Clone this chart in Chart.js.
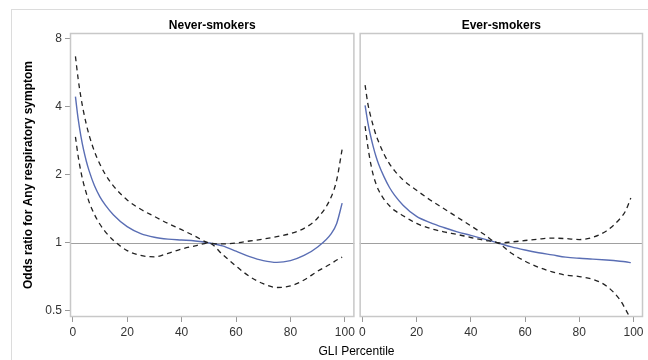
<!DOCTYPE html>
<html><head><meta charset="utf-8">
<script src="https://cdn.jsdelivr.net/npm/chart.js@4/dist/chart.umd.min.js"></script>
<style>
html,body{margin:0;padding:0;background:#fff;}
#wrap{position:relative;width:648px;height:360px;overflow:hidden;font-family:"Liberation Sans",Arial,sans-serif;}
#frame{position:absolute;left:11px;top:9px;width:700px;height:400px;border:1px solid #dcdcdc;}
#c1{position:absolute;left:0;top:0;}
#c2{position:absolute;left:356px;top:0;}
#xt{position:absolute;left:70px;width:573px;top:344px;text-align:center;font-size:12px;color:#000;line-height:14px;}
</style></head><body>
<div id="wrap"><div id="frame"></div>
<canvas id="c1" width="358" height="360"></canvas>
<canvas id="c2" width="292" height="360"></canvas>
<div id="xt">GLI Percentile</div>
</div>
<script>
// Data (GLI percentile vs odds ratio)
const percentiles = [1,2,3,4,5,6,8,10,12,15,20,25,30,35,40,45,50,55,60,65,70,75,80,85,90,95,97,99];
const neverOR = [4.44,3.54,2.97,2.58,2.3,2.09,1.79,1.6,1.47,1.33,1.18,1.1,1.06,1.04,1.03,1.02,1.0,0.97,0.92,0.87,0.835,0.82,0.835,0.88,0.96,1.1,1.22,1.5];
const neverHi = [6.7,5.32,4.42,3.8,3.35,3.01,2.54,2.23,2.01,1.785,1.55,1.41,1.31,1.22,1.145,1.07,1.0,0.99,1.0,1.02,1.04,1.066,1.1,1.16,1.29,1.6,1.9,2.6];
const neverLo = [2.95,2.42,2.07,1.83,1.66,1.52,1.335,1.21,1.12,1.025,0.925,0.88,0.868,0.9,0.94,0.97,1.0,0.89,0.79,0.71,0.66,0.635,0.645,0.685,0.75,0.81,0.84,0.865];
const everOR = [4.06,3.42,2.99,2.67,2.42,2.23,1.96,1.76,1.62,1.47,1.31,1.23,1.17,1.12,1.08,1.04,1.0,0.96,0.93,0.905,0.885,0.865,0.855,0.848,0.84,0.83,0.825,0.818];
const everHi = [5.0,4.15,3.66,3.3,3.01,2.8,2.47,2.24,2.08,1.9,1.71,1.55,1.42,1.3,1.19,1.09,1.0,1.01,1.025,1.04,1.05,1.045,1.035,1.06,1.13,1.28,1.38,1.58];
const everLo = [3.29,2.68,2.27,2.0,1.83,1.71,1.56,1.46,1.39,1.32,1.22,1.16,1.12,1.09,1.057,1.028,1.0,0.9,0.83,0.78,0.745,0.72,0.71,0.69,0.645,0.56,0.51,0.46];
const xTicks = [0,20,40,60,80,100];
const yTicks = [0.5,1,2,4,8];
const refValue = 1;
const panelTitles = ['Never-smokers','Ever-smokers'];
const yTitle = 'Odds ratio for Any respiratory symptom';

const FONT = '"Liberation Sans", Arial, sans-serif';
Chart.defaults.font.family = FONT;

const framePlugin = {
  id:'frame',
  beforeDatasetsDraw(chart){
    const {ctx, chartArea:a, scales} = chart;
    ctx.save();
    const y = Math.round(scales.y.getPixelForValue(refValue)) + 0.5;
    ctx.strokeStyle = '#a0a0a0'; ctx.lineWidth = 1;
    ctx.beginPath(); ctx.moveTo(a.left, y); ctx.lineTo(a.right, y); ctx.stroke();
    ctx.restore();
  },
  afterDraw(chart){
    const {ctx, chartArea:a} = chart;
    ctx.save();
    ctx.strokeStyle = '#c8c8c8'; ctx.lineWidth = 1.5;
    ctx.strokeRect(a.left + 0.5, a.top + 0.5, a.right - a.left - 1, a.bottom - a.top - 1);
    ctx.restore();
  }
};

function series(vals){ return percentiles.map((p,i)=>({x:p, y:vals[i]})); }

function makePanel(id, title, orv, lo, hi, showY){
  const dash = {borderColor:'#222', borderWidth:1.3, borderDash:[5,4], pointRadius:0, cubicInterpolationMode:'monotone', fill:false};
  new Chart(document.getElementById(id), {
    type:'line',
    data:{datasets:[
      Object.assign({data:series(hi)}, dash),
      Object.assign({data:series(lo)}, dash),
      {data:series(orv), borderColor:'#5a6eb4', borderWidth:1.4, pointRadius:0, cubicInterpolationMode:'monotone', fill:false}
    ]},
    options:{
      responsive:false, animation:false, events:[],
      layout:{padding:{left: showY ? 21 : 2, right: showY ? 2 : 5, top:0, bottom:0}},
      plugins:{
        legend:{display:false}, tooltip:{enabled:false},
        title:{display:true, text:title, fullSize:false, color:'#000',
          font:{size:12, weight:'bold', family:FONT}, padding:{top:18, bottom:0.6}}
      },
      scales:{
        x:{type:'linear', min:-1, max:103.5,
          afterBuildTicks:s=>{ s.ticks = xTicks.map(v=>({value:v})); },
          afterFit:s=>{ s.height = 43; },
          grid:{drawOnChartArea:false, drawTicks:true, tickLength:5, tickColor:'#999', color:'#999'},
          border:{display:false},
          ticks:{font:{size:12, family:FONT}, color:'#333', padding:3, maxRotation:0, autoSkip:false}
        },
        y:{type:'logarithmic', min:0.47, max:8.5, display:showY,
          afterBuildTicks:s=>{ s.ticks = yTicks.map(v=>({value:v})); },
          afterFit:s=>{ s.width = showY ? 49 : 0; },
          grid:{drawOnChartArea:false, drawTicks:true, tickLength:5, tickColor:'#999', color:'#999'},
          border:{display:false},
          ticks:{font:{size:12, family:FONT}, color:'#333', padding:3, callback:v=>String(v)},
          title:{display:true, text:yTitle, color:'#000', font:{size:12, weight:'bold', family:FONT}, padding:0}
        }
      }
    },
    plugins:[framePlugin]
  });
}
makePanel('c1', panelTitles[0], neverOR, neverLo, neverHi, true);
makePanel('c2', panelTitles[1], everOR, everLo, everHi, false);
</script>
</body></html>
